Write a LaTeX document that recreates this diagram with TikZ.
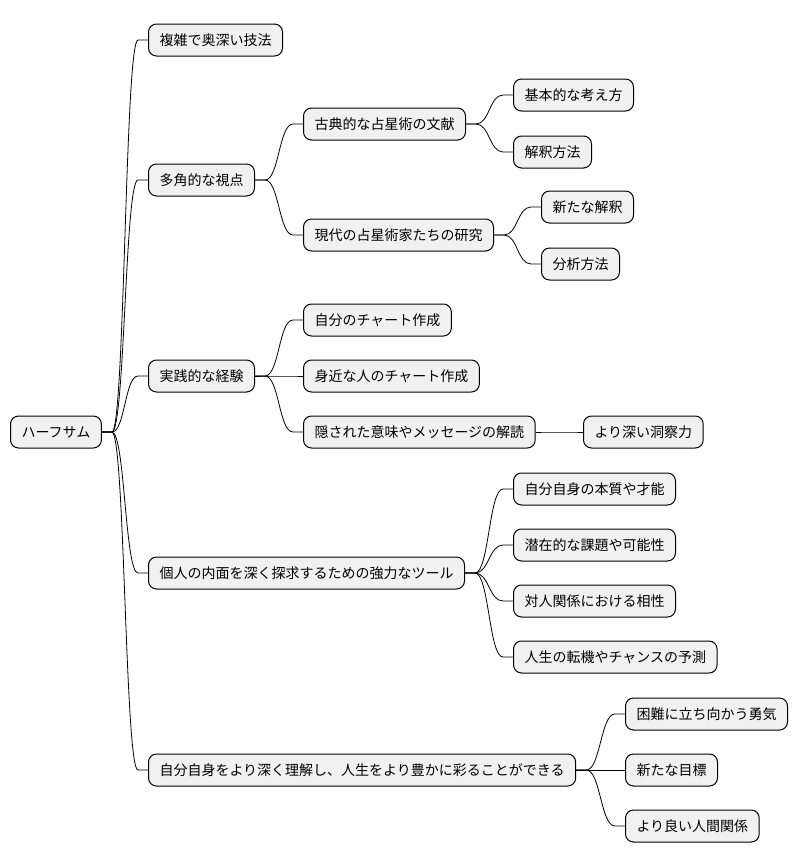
\documentclass[tikz,border=0pt]{standalone}
\usepackage{fontspec}
\setmainfont{Noto Sans CJK JP}
\usetikzlibrary{calc}
\definecolor{boxgray}{RGB}{241,241,241}

\tikzset{
  topic/.style={
    draw=black,
    line width=1pt,
    rounded corners=8pt,
    fill=boxgray,
    anchor=west,
    inner xsep=11pt,
    minimum height=32pt,
    font=\fontsize{14}{16}\selectfont
  },
  branch/.style={
    line width=0.8pt,
    to path={
      let \p1=(\tikztostart), \p2=(\tikztotarget),
          \n1={(\x2-\x1-20pt)/2} in
      -- (\x1+10pt,\y1)
      .. controls (\x1+10pt+\n1*1pt,\y1) and (\x2-10pt-\n1*1pt,\y2) ..
      (\x2-10pt,\y2) -- (\tikztotarget)
    }
  }
}

\begin{document}
\begin{tikzpicture}[x=1pt,y=-1pt]

\useasboundingbox (0,0) rectangle (796,865);

% --- Csomópontok ---

% gyökér
\node[topic] (root) at (10,432) {ハーフサム};

% első szint
\node[topic] (gihou)   at (148,40)  {複雑で奥深い技法};
\node[topic] (shiten)  at (148,180) {多角的な視点};
\node[topic] (keiken)  at (148,376) {実践的な経験};
\node[topic] (naimen)  at (148,573) {個人の内面を深く探求するための強力なツール};
\node[topic] (rikai)   at (148,770) {自分自身をより深く理解し、人生をより豊かに彩ることができる};

% második szint
\node[topic] (koten)   at (303,124) {古典的な占星術の文献};
\node[topic] (gendai)  at (303,235) {現代の占星術家たちの研究};
\node[topic] (jibun)   at (303,320) {自分のチャート作成};
\node[topic] (mijika)  at (303,376) {身近な人のチャート作成};
\node[topic] (kaidoku) at (303,432) {隠された意味やメッセージの解読};

% harmadik szint
\node[topic] (kihon)   at (513,95)  {基本的な考え方};
\node[topic] (kaishaku) at (513,152) {解釈方法};
\node[topic] (arata)   at (541,207) {新たな解釈};
\node[topic] (bunseki) at (541,264) {分析方法};
\node[topic] (dousatsu) at (583,432) {より深い洞察力};
\node[topic] (honshitsu) at (513,489) {自分自身の本質や才能};
\node[topic] (kadai)   at (513,545) {潜在的な課題や可能性};
\node[topic] (aisei)   at (513,601) {対人関係における相性};
\node[topic] (tenki)   at (513,657) {人生の転機やチャンスの予測};
\node[topic] (yuuki)   at (625,714) {困難に立ち向かう勇気};
\node[topic] (mokuhyou) at (625,770) {新たな目標};
\node[topic] (ningen)  at (625,826) {より良い人間関係};

% --- Összeköttetések ---

% gyökértől az első szintig
\draw[branch] (root.east) to (gihou.west);
\draw[branch] (root.east) to (shiten.west);
\draw[branch] (root.east) to (keiken.west);
\draw[branch] (root.east) to (naimen.west);
\draw[branch] (root.east) to (rikai.west);

% nézőpontok ága
\draw[branch] (shiten.east) to (koten.west);
\draw[branch] (shiten.east) to (gendai.west);
\draw[branch] (koten.east) to (kihon.west);
\draw[branch] (koten.east) to (kaishaku.west);
\draw[branch] (gendai.east) to (arata.west);
\draw[branch] (gendai.east) to (bunseki.west);

% tapasztalat ága
\draw[branch] (keiken.east) to (jibun.west);
\draw[branch] (keiken.east) to (mijika.west);
\draw[branch] (keiken.east) to (kaidoku.west);
\draw[branch] (kaidoku.east) to (dousatsu.west);

% belső világ ága
\draw[branch] (naimen.east) to (honshitsu.west);
\draw[branch] (naimen.east) to (kadai.west);
\draw[branch] (naimen.east) to (aisei.west);
\draw[branch] (naimen.east) to (tenki.west);

% önismeret ága
\draw[branch] (rikai.east) to (yuuki.west);
\draw[branch] (rikai.east) to (mokuhyou.west);
\draw[branch] (rikai.east) to (ningen.west);

\end{tikzpicture}
\end{document}
